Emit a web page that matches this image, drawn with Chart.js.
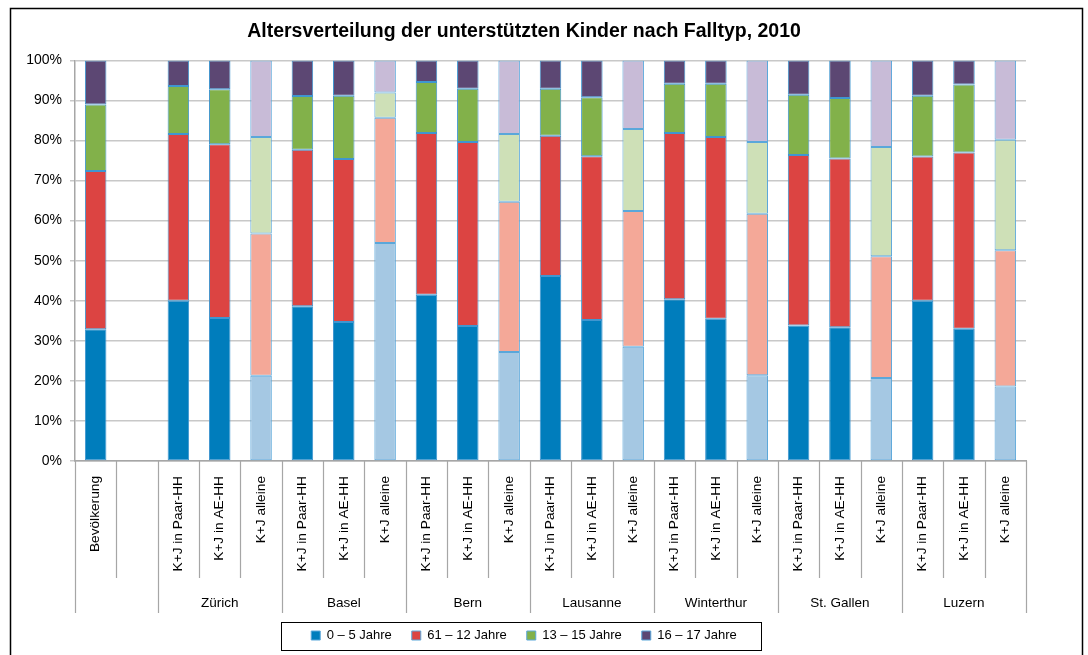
<!DOCTYPE html>
<html><head><meta charset="utf-8">
<script src="https://cdn.jsdelivr.net/npm/chart.js@4.4.1/dist/chart.umd.min.js"></script>
<style>html,body{margin:0;padding:0;background:#fff}canvas{display:block}</style>
</head><body>
<canvas id="c" width="1088" height="655"></canvas>
<script>
const titleText = 'Altersverteilung der unterstützten Kinder nach Falltyp, 2010';
const categories = ['Bevölkerung', '',
  'K+J in Paar-HH', 'K+J in AE-HH', 'K+J alleine',
  'K+J in Paar-HH', 'K+J in AE-HH', 'K+J alleine',
  'K+J in Paar-HH', 'K+J in AE-HH', 'K+J alleine',
  'K+J in Paar-HH', 'K+J in AE-HH', 'K+J alleine',
  'K+J in Paar-HH', 'K+J in AE-HH', 'K+J alleine',
  'K+J in Paar-HH', 'K+J in AE-HH', 'K+J alleine',
  'K+J in Paar-HH', 'K+J in AE-HH', 'K+J alleine'];
const groupLabels = ['', 'Zürich', 'Basel', 'Bern', 'Lausanne', 'Winterthur', 'St. Gallen', 'Luzern'];
const groupSizes = [2, 3, 3, 3, 3, 3, 3, 3];
const seriesNames = ['0 – 5 Jahre', '61 – 12 Jahre', '13 – 15 Jahre', '16 – 17 Jahre'];
const age0to5 = [32.9, null, 40.0, 35.7, 21.3, 38.6, 34.7, 54.4, 41.5, 33.7, 27.2, 46.2, 35.2, 28.5, 40.4, 35.5, 21.4, 33.8, 33.4, 20.7, 40.0, 33.0, 18.6];
const age6to12 = [39.5, null, 41.6, 43.4, 35.5, 39.1, 40.7, 31.3, 40.4, 45.9, 37.5, 35.0, 40.9, 33.9, 41.5, 45.4, 40.3, 42.6, 42.1, 30.4, 36.0, 44.0, 34.0];
const age13to15 = [16.6, null, 12.0, 13.7, 24.1, 13.4, 15.8, 6.3, 12.7, 13.3, 16.9, 11.7, 14.7, 20.5, 12.3, 13.3, 17.9, 15.0, 15.1, 27.3, 15.2, 17.0, 27.6];
const age16to17 = [11.0, null, 6.4, 7.2, 19.1, 8.9, 8.8, 8.0, 5.4, 7.1, 18.4, 7.1, 9.2, 17.1, 5.8, 5.8, 20.4, 8.6, 9.4, 21.6, 8.8, 6.0, 19.8];
const yTicks = [0, 10, 20, 30, 40, 50, 60, 70, 80, 90, 100];

const darkColors = ['#007DBC', '#DC4442', '#82B14A', '#5C4773'];
const lightColors = ['#A5C8E3', '#F4A898', '#CEE0B7', '#C8BBD7'];
const FONT = "'Liberation Sans', Arial, sans-serif";
Chart.defaults.font.family = FONT;
Chart.defaults.color = '#000';

const seriesValues = [age0to5, age6to12, age13to15, age16to17];
const datasets = seriesValues.map((vals, si) => ({
  label: seriesNames[si],
  data: vals,
  backgroundColor: categories.map(c => c === 'K+J alleine' ? lightColors[si] : darkColors[si]),
  borderColor: categories.map(c => c === 'K+J alleine' ? '#5AA7DA' : '#3F96D0'),
  borderWidth: 1,
  borderSkipped: false,
  barPercentage: 0.52,
  categoryPercentage: 1.0
}));

const PADL = 22, PADR = 62;

const decor = {
  id: 'decor',
  afterDraw(chart) {
    const ctx = chart.ctx;
    const xs = chart.scales.x;
    ctx.save();
    // outer frame
    ctx.strokeStyle = '#000';
    ctx.lineWidth = 1.5;
    ctx.beginPath();
    ctx.moveTo(10.5, 660); ctx.lineTo(10.5, 8.5); ctx.lineTo(1082.5, 8.5); ctx.lineTo(1082.5, 660);
    ctx.stroke();
    // category separators
    const axisY = xs.top;
    const longStarts = [0];
    let acc = 0;
    groupSizes.forEach(s => { acc += s; longStarts.push(acc); });
    ctx.strokeStyle = '#A6A6A6';
    ctx.lineWidth = 1.2;
    for (let b = 0; b <= categories.length; b++) {
      const x = Math.round(xs.getPixelForValue(b - 0.5)) + 0.5;
      const isLong = longStarts.includes(b);
      ctx.beginPath();
      ctx.moveTo(x, axisY);
      ctx.lineTo(x, axisY + (isLong ? 152 : 117));
      ctx.stroke();
    }
    // group labels
    ctx.fillStyle = '#000';
    ctx.font = '13.5px ' + FONT;
    ctx.textAlign = 'center';
    ctx.textBaseline = 'middle';
    let start = 0;
    groupSizes.forEach((s, gi) => {
      const x1 = xs.getPixelForValue(start - 0.5);
      const x2 = xs.getPixelForValue(start + s - 0.5);
      ctx.fillText(groupLabels[gi], (x1 + x2) / 2, axisY + 142);
      start += s;
    });
    // legend box
    const hb = chart.legend.legendHitBoxes;
    if (hb && hb.length) {
      const l = hb[0].left - 30;
      const r = hb[hb.length - 1].left + hb[hb.length - 1].width + 24;
      const cy = hb[0].top + hb[0].height / 2;
      ctx.strokeStyle = '#000';
      ctx.lineWidth = 1;
      ctx.strokeRect(Math.round(l) + 0.5, Math.round(cy - 14) + 0.5, Math.round(r - l), 28);
    }
    ctx.restore();
  }
};

new Chart(document.getElementById('c'), {
  type: 'bar',
  data: { labels: categories, datasets },
  plugins: [decor],
  options: {
    responsive: false,
    animation: false,
    devicePixelRatio: 1,
    layout: { padding: { left: PADL, right: PADR, top: 10, bottom: 3 } },
    plugins: {
      tooltip: { enabled: false },
      title: {
        display: true, text: titleText, color: '#000',
        font: { family: FONT, size: 19.5, weight: 'bold' },
        padding: { top: 10, bottom: 17 }
      },
      legend: {
        position: 'bottom',
        labels: {
          boxWidth: 9, boxHeight: 9, padding: 20, color: '#000',
          font: { family: FONT, size: 13 },
          generateLabels: (chart) => chart.data.datasets.map((d, i) => ({
            text: d.label, fillStyle: darkColors[i], strokeStyle: '#5AA7DA', lineWidth: 1,
            hidden: false, datasetIndex: i
          }))
        }
      }
    },
    scales: {
      x: {
        stacked: true,
        grid: { display: false },
        border: { display: true, color: '#A6A6A6', width: 1.5 },
        ticks: { autoSkip: false, maxRotation: 90, minRotation: 90, padding: 7, color: '#000', font: { size: 13.7 } },
        afterFit: (s) => { s.height = 148; }
      },
      y: {
        stacked: true, min: 0, max: 100,
        afterBuildTicks: (s) => { s.ticks = yTicks.map(v => ({ value: v })); },
        grid: { color: '#C8C8C8', lineWidth: 1.5, tickLength: 5, drawTicks: true },
        border: { display: true, color: '#A6A6A6', width: 1.5 },
        ticks: { padding: 8, color: '#000', font: { size: 14 }, callback: (v) => v + '%' },
        afterFit: (s) => { s.width = 75 - PADL; }
      }
    }
  }
});
</script>
</body></html>
